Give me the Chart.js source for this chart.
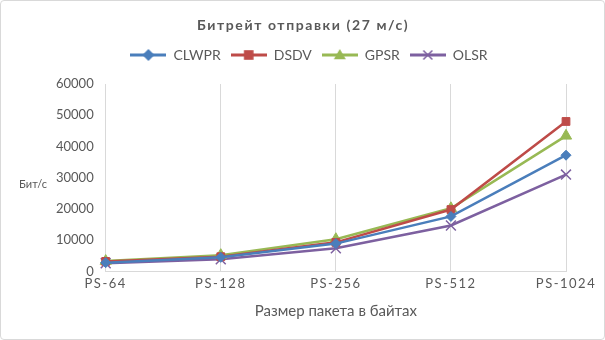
<!DOCTYPE html>
<html>
<head>
<meta charset="utf-8">
<script src="https://cdn.jsdelivr.net/npm/chart.js@4.4.1/dist/chart.umd.min.js"></script>
<style>
  html, body { margin: 0; padding: 0; background: #fff; }
  #wrap { position: relative; width: 603px; height: 338px; border: 1px solid #d9d9d9; border-radius: 4px; }
</style>
</head>
<body>
<div id="wrap"><canvas id="bitrateChart" width="603" height="338"></canvas></div>
<script>
const packetSizes = ['PS-64', 'PS-128', 'PS-256', 'PS-512', 'PS-1024'];
const clwpr = [2800, 4500, 8900, 17600, 37200];
const dsdv  = [3200, 4700, 9300, 19800, 48000];
const gpsr  = [3300, 5200, 10300, 20200, 43400];
const olsr  = [2600, 3900, 7400, 14700, 31000];

const chartTitle = 'Битрейт отправки (27 м/с)';
const xTitle = 'Размер пакета в байтах';
const yTitle = 'Бит/с';

const grey = '#595959';
const fontFamily = 'Lato, "Open Sans", sans-serif';

// small marker drawer, shared by the legend icons
function drawMarker(c, style, x, y, r, color) {
    c.fillStyle = color;
    c.strokeStyle = color;
    c.lineWidth = 2;
    c.beginPath();
    if (style === 'rectRot') {
        c.moveTo(x, y - r); c.lineTo(x + r, y); c.lineTo(x, y + r); c.lineTo(x - r, y); c.closePath(); c.fill();
    } else if (style === 'rect') {
        c.fillRect(x - r * 0.8, y - r * 0.8, r * 1.6, r * 1.6);
    } else if (style === 'triangle') {
        c.moveTo(x, y - r); c.lineTo(x + r, y + r * 0.7); c.lineTo(x - r, y + r * 0.7); c.closePath(); c.fill();
    } else if (style === 'crossRot') {
        c.moveTo(x - r * 0.75, y - r * 0.75); c.lineTo(x + r * 0.75, y + r * 0.75);
        c.moveTo(x + r * 0.75, y - r * 0.75); c.lineTo(x - r * 0.75, y + r * 0.75);
        c.lineWidth = 1.5;
        c.stroke();
    }
}

function legendIcon(style, color) {
    const cv = document.createElement('canvas');
    cv.width = 36; cv.height = 14;
    const c = cv.getContext('2d');
    c.strokeStyle = color;
    c.lineWidth = 3;
    c.beginPath(); c.moveTo(0, 7); c.lineTo(36, 7); c.stroke();
    drawMarker(c, style, 18, 7, 6, color);
    return cv;
}

const series = [
    { label: 'CLWPR', data: clwpr, color: '#4a7ebb', style: 'rectRot', radius: 5 },
    { label: 'DSDV',  data: dsdv,  color: '#be4b48', style: 'rect', radius: 5.5 },
    { label: 'GPSR',  data: gpsr,  color: '#98b954', style: 'triangle', radius: 6.5 },
    { label: 'OLSR',  data: olsr,  color: '#7d60a0', style: 'crossRot', radius: 7 }
];

// title, x tick labels and axis titles are drawn here, with letter spacing
const textPlugin = {
    id: 'texts',
    afterDraw(chart) {
        const ctx = chart.ctx;
        const area = chart.chartArea;
        const xs = chart.scales.x;
        ctx.save();
        ctx.fillStyle = grey;
        ctx.textAlign = 'center';
        ctx.textBaseline = 'middle';

        ctx.font = 'bold 14px ' + fontFamily;
        ctx.letterSpacing = '1.6px';
        ctx.fillText(chartTitle, 302, 24);

        ctx.font = '13px ' + fontFamily;
        ctx.letterSpacing = '1.5px';
        packetSizes.forEach((p, i) => {
            ctx.fillText(p, xs.getPixelForValue(i), area.bottom + 12);
        });

        ctx.letterSpacing = '0px';
        ctx.font = '15px ' + fontFamily;
        ctx.fillText(xTitle, (area.left + area.right) / 2, 310);

        ctx.font = '11px ' + fontFamily;
        ctx.fillText(yTitle, 32, 183);
        ctx.restore();
    }
};

new Chart(document.getElementById('bitrateChart'), {
    type: 'line',
    data: {
        labels: packetSizes,
        datasets: series.map(s => ({
            label: s.label,
            data: s.data,
            borderColor: s.color,
            backgroundColor: s.color,
            borderWidth: 2.5,
            pointStyle: s.style,
            pointRadius: s.radius,
            pointBorderWidth: s.style === 'crossRot' ? 1.5 : 1,
            pointBorderColor: s.color,
            pointBackgroundColor: s.color,
            tension: 0
        }))
    },
    options: {
        responsive: false,
        animation: false,
        layout: { padding: { top: 37, left: 51, right: 38, bottom: 40 } },
        plugins: {
            title: { display: false },
            // empty subtitle, used as a gap between legend and plot
            subtitle: { display: true, text: '', weight: 500, padding: 0, font: { size: 10 } },
            tooltip: { enabled: false },
            legend: {
                position: 'top',
                labels: {
                    usePointStyle: true,
                    pointStyleWidth: 36,
                    boxHeight: 14,
                    padding: 10,
                    color: grey,
                    font: { family: fontFamily, size: 14 },
                    generateLabels(chart) {
                        return series.map((s, i) => ({
                            text: s.label,
                            pointStyle: legendIcon(s.style, s.color),
                            fillStyle: s.color,
                            strokeStyle: s.color,
                            lineWidth: 0,
                            fontColor: grey,
                            hidden: false,
                            datasetIndex: i
                        }));
                    }
                }
            }
        },
        scales: {
            x: {
                offset: false,
                grid: { display: true, color: '#d9d9d9', drawTicks: false },
                border: { color: '#d9d9d9' },
                ticks: { display: true, color: 'rgba(0,0,0,0)', font: { family: fontFamily, size: 13 }, padding: 6 }
            },
            y: {
                min: 0,
                max: 60000,
                grid: { display: false },
                border: { color: '#d9d9d9' },
                ticks: {
                    stepSize: 10000,
                    color: grey,
                    padding: 4,
                    font: { family: fontFamily, size: 13 },
                    callback: v => String(v)
                }
            }
        }
    },
    plugins: [textPlugin]
});
</script>
</body>
</html>
